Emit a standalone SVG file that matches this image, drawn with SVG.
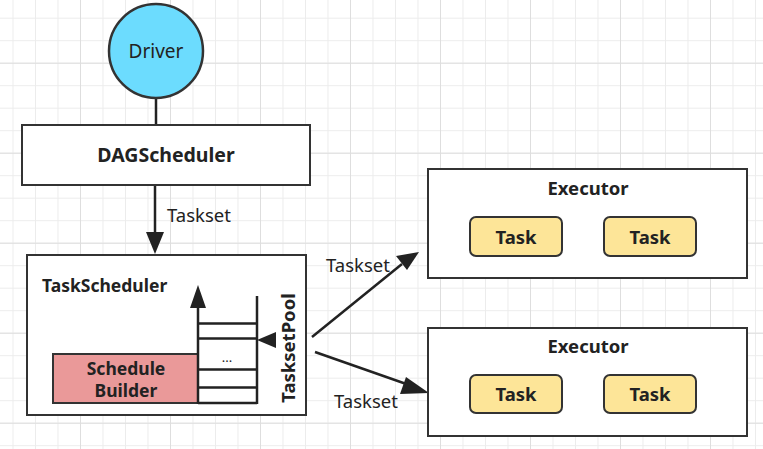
<svg xmlns="http://www.w3.org/2000/svg" width="763" height="449" viewBox="0 0 763 449">
<defs>
<pattern id="minor" x="12.5" y="17.7" width="22.5" height="22.5" patternUnits="userSpaceOnUse">
<path d="M0.5 0V22.5M0 0.5H22.5" fill="none" stroke="#ececec" stroke-width="1"/>
</pattern>
<pattern id="major" x="-10" y="-27.3" width="90" height="90" patternUnits="userSpaceOnUse">
<path d="M0.5 0V90M0 0.5H90" fill="none" stroke="#dedede" stroke-width="1"/>
</pattern>
</defs>
<style>
.box{fill:#fff;stroke:#333;stroke-width:2}
.b{font-family:"Noto Sans","Liberation Sans",sans-serif;font-weight:bold;fill:#222}
.c{text-anchor:middle}
.r{font-family:"Noto Sans","Liberation Sans",sans-serif;fill:#222}
.task{fill:#fde598;stroke:#333;stroke-width:2}
.ln{stroke:#222;stroke-width:2.5;fill:none}
</style>
<rect width="763" height="449" fill="#fff"/>
<rect width="763" height="449" fill="url(#minor)"/>
<rect width="763" height="449" fill="url(#major)"/>

<g id="connectors">
<line class="ln" x1="156" y1="98" x2="156" y2="125"/>
<line class="ln" x1="155" y1="186" x2="155" y2="232"/>
<path d="M146 232L164 232L155 254z" fill="#222"/>
<text class="r" x="167" y="222" font-size="18.5">Taskset</text>
<line class="ln" x1="312" y1="337" x2="402" y2="264"/>
<path d="M419 252L396 256L407 270z" fill="#222"/>
<text class="r" x="326" y="272" font-size="18.5">Taskset</text>
<line class="ln" x1="315" y1="352" x2="412" y2="386"/>
<path d="M429 393L406 377L400 394z" fill="#222"/>
<text class="r" x="334" y="408" font-size="18.5">Taskset</text>
</g>

<g id="driver">
<circle cx="156" cy="51" r="47" fill="#6cdcfe" stroke="#333" stroke-width="2.5"/>
<text class="r c" x="156" y="58" font-size="19">Driver</text>
</g>

<g id="dagscheduler">
<rect class="box" x="22" y="125" width="288" height="60"/>
<text class="b c" x="166" y="162" font-size="19.5">DAGScheduler</text>
</g>

<g id="taskscheduler">
<rect class="box" x="27" y="255" width="279" height="160"/>
<text class="b" x="42" y="292" font-size="17.5">TaskScheduler</text>
</g>

<g id="schedulebuilder">
<rect x="53" y="354" width="145" height="49" fill="#ea9999" stroke="#333" stroke-width="2"/>
<text class="b c" x="126" y="375" font-size="17.5">Schedule</text>
<text class="b c" x="126" y="397" font-size="17.5">Builder</text>
</g>

<g id="tasksetpool">
<line class="ln" x1="198" y1="305" x2="198" y2="404"/>
<path d="M190 308L206 308L198 285z" fill="#222"/>
<line class="ln" x1="257" y1="296" x2="257" y2="404"/>
<path class="ln" d="M198 323.5H257M198 338.5H257M198 369.5H257M198 387.5H257M198 403H257"/>
<text class="r c" x="227" y="362" font-size="13">...</text>
<path d="M257 340L276 332L276 348z" fill="#222"/>
<text class="b c" transform="translate(295 348) rotate(-90)" font-size="18.5">TasksetPool</text>
</g>

<g id="executor1">
<rect class="box" x="428" y="169" width="319" height="109"/>
<text class="b c" x="588" y="195" font-size="18.5">Executor</text>
<g id="task1"><rect class="task" x="470" y="217" width="92" height="39" rx="6"/><text class="b c" x="516" y="244" font-size="18.5">Task</text></g>
<g id="task2"><rect class="task" x="604" y="217" width="92" height="39" rx="6"/><text class="b c" x="650" y="244" font-size="18.5">Task</text></g>
</g>

<g id="executor2">
<rect class="box" x="428" y="328" width="319" height="108"/>
<text class="b c" x="588" y="353" font-size="18.5">Executor</text>
<g id="task3"><rect class="task" x="470" y="375" width="92" height="38" rx="6"/><text class="b c" x="516" y="401" font-size="18.5">Task</text></g>
<g id="task4"><rect class="task" x="604" y="375" width="92" height="38" rx="6"/><text class="b c" x="650" y="401" font-size="18.5">Task</text></g>
</g>
</svg>
